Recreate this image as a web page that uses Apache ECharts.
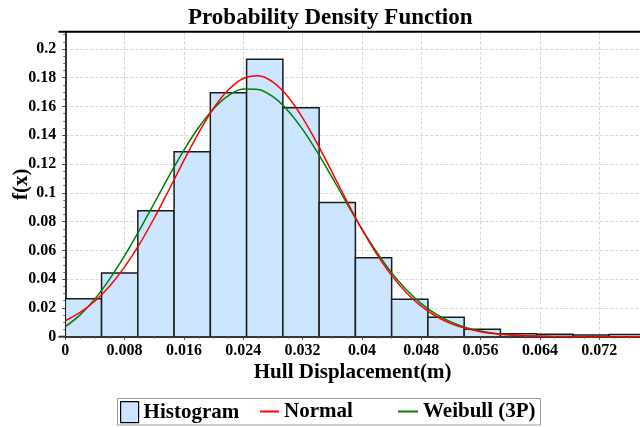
<!DOCTYPE html>
<html>
<head>
<meta charset="utf-8">
<script src="https://cdn.jsdelivr.net/npm/echarts@6/dist/echarts.min.js"></script>
<style>html,body{margin:0;padding:0;background:#fff}#c{width:640px;height:427px}</style>
</head>
<body>
<div id="c"></div>
<script>
// Histogram bin edges (m) and relative frequencies
var binEdges = [0, 0.00489, 0.00978, 0.01467, 0.01956, 0.02445, 0.02934, 0.03423, 0.03912, 0.04401, 0.0489, 0.05379, 0.05868, 0.06357, 0.06846, 0.07335, 0.07824];
var histValues = [0.0264, 0.0443, 0.0876, 0.1286, 0.1696, 0.1928, 0.1592, 0.0932, 0.0549, 0.0260, 0.0135, 0.0051, 0.0020, 0.0017, 0.0012, 0.0016];

// Fitted curves
var curveX = [0, 0.002, 0.004, 0.006, 0.008, 0.010, 0.012, 0.014, 0.016, 0.018, 0.020, 0.022, 0.024, 0.026, 0.028, 0.030, 0.032, 0.034, 0.036, 0.038, 0.040, 0.042, 0.044, 0.046, 0.048, 0.050, 0.052, 0.054, 0.056, 0.058, 0.060, 0.062, 0.064, 0.066, 0.068, 0.070, 0.072, 0.074, 0.076, 0.078];
var normalValues = [0.0111, 0.0169, 0.0248, 0.0353, 0.0485, 0.0643, 0.0825, 0.1023, 0.1226, 0.1419, 0.1588, 0.1717, 0.1795, 0.1813, 0.1769, 0.1669, 0.1521, 0.1340, 0.1141, 0.0939, 0.0746, 0.0574, 0.0426, 0.0306, 0.0212, 0.0142, 0.0092, 0.0058, 0.0035, 0.0020, 0.0012, 0.0006, 0.0003, 0.0002, 0.0001, 0, 0, 0, 0, 0];
var weibullValues = [0.0070, 0.0152, 0.0263, 0.0402, 0.0563, 0.0741, 0.0929, 0.1118, 0.1297, 0.1456, 0.1585, 0.1676, 0.1721, 0.1719, 0.1668, 0.1573, 0.1441, 0.1281, 0.1105, 0.0924, 0.0749, 0.0587, 0.0445, 0.0326, 0.0230, 0.0157, 0.0103, 0.0065, 0.0039, 0.0023, 0.0013, 0.0007, 0.0003, 0.0002, 0.0001, 0, 0, 0, 0, 0];

var titleText = 'Probability Density Function';
var xName = 'Hull Displacement(m)';
var yName = 'f(x)';
var seriesNames = ['Histogram', 'Normal', 'Weibull (3P)'];

var FONT = 'Liberation Serif';
var histData = histValues.map(function (v, i) { return [binEdges[i], binEdges[i + 1], v]; });
var normalData = curveX.map(function (x, i) { return [x, normalValues[i]]; });
var weibullData = curveX.map(function (x, i) { return [x, weibullValues[i]]; });

var chart = echarts.init(document.getElementById('c'), null, { renderer: 'canvas' });
var legendText = { fontFamily: FONT, fontWeight: 'bold', fontSize: 21, color: '#000' };
chart.setOption({
  animation: false,
  backgroundColor: '#fff',
  title: {
    text: titleText, left: 188, top: 7, padding: 0,
    textStyle: { fontFamily: FONT, fontWeight: 'bold', fontSize: 23, color: '#000' }
  },
  grid: { left: 65.3, right: 0, top: 31.7, bottom: 90.3, containLabel: false, outerBoundsMode: 'none' },
  legend: [
    { data: [{ name: seriesNames[0], icon: 'rect', itemStyle: { color: '#cce5ff', borderColor: '#000', borderWidth: 1.2 } }],
      left: 120, top: 401, padding: 0, itemWidth: 18, itemHeight: 21, textStyle: legendText, selectedMode: false },
    { data: [{ name: seriesNames[1], icon: 'rect', itemStyle: { color: '#ff0000' } }],
      left: 260, top: 401, padding: 0, itemWidth: 19, itemHeight: 2, textStyle: legendText, selectedMode: false },
    { data: [{ name: seriesNames[2], icon: 'rect', itemStyle: { color: '#008000' } }],
      left: 398, top: 401, padding: 0, itemWidth: 20, itemHeight: 2, textStyle: legendText, selectedMode: false }
  ],
  graphic: [
    { type: 'rect', shape: { x: 117.5, y: 398.5, width: 423, height: 26.5 }, style: { fill: null, stroke: '#999', lineWidth: 1 }, z: -1 },
    { type: 'line', shape: { x1: 58.5, y1: 31.7, x2: 640, y2: 31.7 }, style: { stroke: '#000', lineWidth: 2 }, z: 10 },
    { type: 'line', shape: { x1: 58.5, y1: 336.7, x2: 66, y2: 336.7 }, style: { stroke: '#333', lineWidth: 2 }, z: 10 }
  ],
  xAxis: {
    type: 'value', min: 0, max: 0.0775, interval: 0.008,
    name: xName, nameLocation: 'middle', nameGap: 25, nameMoveOverlap: false,
    nameTextStyle: { fontFamily: FONT, fontWeight: 'bold', fontSize: 21, color: '#000' },
    axisLine: { show: true, onZero: false, lineStyle: { color: '#333', width: 2 } },
    axisTick: { show: true, length: 3, lineStyle: { color: '#444' } },
    minorTick: { show: true, splitNumber: 4, length: 2, lineStyle: { color: '#666' } },
    axisLabel: { margin: 6, showMaxLabel: false, fontFamily: FONT, fontWeight: 'bold', fontSize: 16, color: '#000' },
    splitLine: { show: true, lineStyle: { color: '#d6d6d6', type: [3, 2], width: 1 } }
  },
  yAxis: {
    type: 'value', min: 0, max: 0.212, interval: 0.02, offset: 6,
    name: yName, nameLocation: 'middle', nameGap: 27, nameRotate: 90, nameMoveOverlap: false,
    nameTextStyle: { fontFamily: FONT, fontWeight: 'bold', fontSize: 21, color: '#000' },
    axisLine: { show: true, lineStyle: { color: '#333', width: 2 } },
    axisTick: { show: true, length: 3, lineStyle: { color: '#444' } },
    minorTick: { show: true, splitNumber: 4, length: 2, lineStyle: { color: '#666' } },
    axisLabel: { margin: 3, showMaxLabel: false, fontFamily: FONT, fontWeight: 'bold', fontSize: 16, color: '#000' },
    splitLine: { show: true, lineStyle: { color: '#d6d6d6', type: [3, 2], width: 1 } }
  },
  series: [
    {
      name: seriesNames[0], type: 'custom', z: 2, clip: true,
      itemStyle: { color: '#cce5ff', borderColor: '#1a1a1a' },
      encode: { x: [0, 1], y: 2 },
      data: histData,
      renderItem: function (params, api) {
        var p0 = api.coord([api.value(0), api.value(2)]);
        var p1 = api.coord([api.value(1), 0]);
        return {
          type: 'rect',
          shape: { x: p0[0], y: p0[1], width: p1[0] - p0[0], height: p1[1] - p0[1] },
          style: { fill: '#cce5ff', stroke: '#1a1a1a', lineWidth: 1.5 }
        };
      }
    },
    { name: seriesNames[1], type: 'line', z: 4, smooth: 0.3, symbol: 'none', data: normalData,
      lineStyle: { color: '#ff0000', width: 1.5 }, itemStyle: { color: '#ff0000' } },
    { name: seriesNames[2], type: 'line', z: 3, smooth: 0.3, symbol: 'none', data: weibullData,
      lineStyle: { color: '#008000', width: 1.5 }, itemStyle: { color: '#008000' } }
  ]
});
</script>
</body>
</html>
